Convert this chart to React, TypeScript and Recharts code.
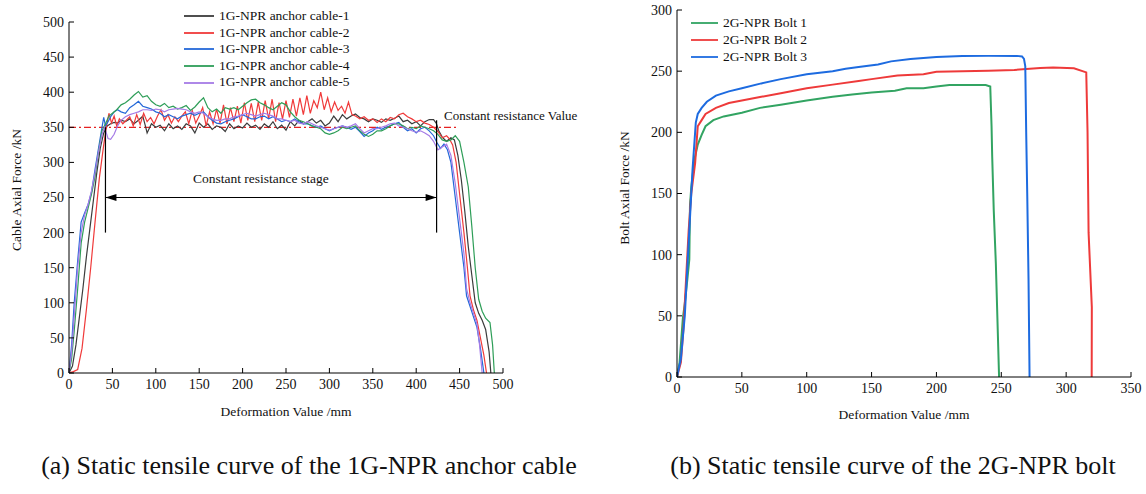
import React from 'react';
import { LineChart, Line, XAxis, YAxis, ReferenceLine, ReferenceDot } from 'recharts';

const serif = '"Liberation Serif", "Times New Roman", serif';

// ---------- (a) 1G-NPR anchor cable ----------
const cableXTicks = [0, 50, 100, 150, 200, 250, 300, 350, 400, 450, 500];
const cableYTicks = [0, 50, 100, 150, 200, 250, 300, 350, 400, 450, 500];
const cableNames = ['1G-NPR anchor cable-1', '1G-NPR anchor cable-2', '1G-NPR anchor cable-3', '1G-NPR anchor cable-4', '1G-NPR anchor cable-5'];
const cableColors = ['#3c3c3c', '#f03a3a', '#2468d8', '#2e9e58', '#a57be6'];
const constantValue = 350;
const stageStart = 42;
const stageEnd = 423.5;

const cable1 = [[0,0],[4,10],[8,40],[12,80],[16,120],[20,165],[24,205],[28,245],[32,285],[36,320],[40,342],[44,352],[48,355],[52,357],[56,356],[60,360],[65,358],[70,362],[75,355],[80,360],[85,366],[88,352],[90,342],[95,355],[100,350],[105,353],[110,345],[115,355],[120,348],[125,352],[130,347],[135,355],[140,352],[145,342],[150,356],[155,350],[160,355],[165,347],[170,352],[175,350],[180,344],[185,355],[190,348],[195,352],[200,349],[205,356],[210,350],[215,353],[220,347],[225,355],[230,350],[235,358],[240,348],[245,353],[250,346],[255,358],[260,352],[265,360],[270,355],[275,358],[280,362],[285,356],[290,360],[295,352],[300,356],[305,366],[310,358],[315,368],[320,362],[325,366],[330,369],[335,364],[340,362],[345,358],[350,362],[355,360],[360,357],[365,362],[370,360],[375,363],[380,366],[385,358],[390,360],[395,355],[400,358],[405,352],[410,358],[415,361],[420,361],[423,356],[426,345],[430,336],[435,330],[440,335],[444,332],[448,310],[452,275],[456,230],[460,180],[464,140],[468,100],[472,85],[476,75],[480,62],[484,30],[486,0]];
const cable2 = [[0,0],[5,2],[10,5],[15,35],[20,90],[25,150],[30,215],[35,278],[40,325],[43,350],[46,370],[49,356],[52,366],[55,352],[58,362],[62,355],[66,360],[70,365],[74,352],[78,368],[82,354],[86,370],[90,358],[94,364],[98,355],[102,366],[106,375],[110,360],[114,368],[118,356],[122,365],[126,358],[130,366],[134,372],[138,355],[142,374],[146,356],[150,366],[154,378],[158,352],[162,372],[166,355],[170,376],[174,356],[178,382],[182,355],[186,378],[190,358],[194,380],[198,356],[202,385],[206,360],[210,384],[214,358],[218,386],[222,360],[226,388],[230,362],[234,390],[238,358],[242,385],[246,362],[250,388],[254,364],[258,390],[262,366],[266,392],[270,368],[274,395],[278,370],[282,388],[286,378],[290,400],[294,375],[298,392],[302,372],[306,386],[310,374],[314,380],[318,370],[322,386],[326,368],[330,366],[335,362],[340,365],[345,360],[350,362],[355,357],[360,362],[365,358],[370,364],[375,362],[380,368],[385,370],[390,365],[395,362],[400,358],[405,360],[410,356],[415,354],[420,350],[425,344],[430,335],[435,338],[438,334],[442,325],[446,300],[450,255],[455,200],[459,150],[462,110],[466,90],[470,75],[474,50],[478,25],[481,0]];
const cable3 = [[0,0],[3,40],[6,100],[10,160],[14,215],[18,228],[22,240],[26,258],[30,290],[34,320],[38,350],[40,364],[42,352],[45,358],[48,365],[52,372],[56,375],[60,372],[65,370],[70,378],[75,382],[80,387],[85,380],[90,378],[95,376],[100,372],[105,370],[110,365],[115,368],[120,365],[125,362],[130,366],[135,368],[140,370],[145,367],[150,370],[155,372],[160,365],[165,360],[170,356],[175,355],[180,358],[185,360],[190,362],[195,365],[200,368],[205,365],[210,362],[215,362],[220,365],[225,366],[230,362],[235,365],[240,362],[245,358],[250,360],[255,358],[260,362],[265,358],[270,355],[275,355],[280,352],[285,350],[290,352],[295,348],[300,345],[305,348],[310,350],[315,352],[320,350],[325,347],[330,350],[335,344],[340,337],[345,342],[350,345],[355,350],[360,347],[365,350],[370,352],[375,355],[380,357],[385,350],[390,345],[395,348],[400,342],[405,348],[410,350],[415,345],[420,338],[424,328],[428,320],[432,326],[436,318],[440,300],[445,250],[450,200],[455,150],[458,110],[462,95],[466,80],[470,65],[474,35],[478,0]];
const cable4 = [[0,0],[3,20],[6,60],[10,120],[14,185],[18,215],[22,235],[26,255],[30,280],[34,315],[38,345],[42,355],[46,366],[50,370],[55,375],[60,382],[65,385],[70,390],[75,396],[80,401],[85,393],[90,395],[95,387],[100,382],[105,380],[110,384],[115,378],[120,380],[125,376],[130,378],[135,381],[140,374],[145,379],[150,386],[155,392],[160,378],[165,372],[170,376],[175,370],[180,378],[185,376],[190,378],[195,375],[200,380],[205,385],[210,389],[215,390],[220,385],[225,382],[230,378],[235,375],[240,380],[245,385],[250,382],[255,372],[260,365],[265,360],[270,358],[275,355],[280,352],[285,350],[290,348],[295,342],[300,340],[305,342],[310,345],[315,350],[320,348],[325,350],[330,352],[335,345],[340,340],[345,337],[350,340],[355,345],[360,345],[365,348],[370,352],[375,355],[380,355],[385,352],[390,348],[395,350],[400,348],[405,352],[410,350],[415,348],[420,345],[425,340],[430,332],[435,330],[440,332],[445,338],[450,330],[455,300],[460,265],[464,210],[468,150],[472,105],[476,88],[480,78],[485,72],[488,40],[490,0]];
const cable5 = [[0,0],[3,30],[6,80],[10,150],[14,200],[18,225],[22,240],[26,260],[30,285],[34,315],[38,340],[41,350],[43,342],[45,334],[48,333],[52,340],[56,352],[60,360],[65,365],[70,368],[75,370],[80,372],[85,375],[90,375],[95,374],[100,376],[105,375],[110,372],[115,375],[120,376],[125,377],[130,376],[135,375],[140,372],[145,370],[150,372],[155,370],[160,365],[165,362],[170,360],[175,360],[180,362],[185,362],[190,365],[195,366],[200,368],[205,370],[210,368],[215,366],[220,368],[225,370],[230,368],[235,366],[240,362],[245,362],[250,360],[255,358],[260,360],[265,356],[270,355],[275,358],[280,355],[285,352],[290,350],[295,348],[300,346],[305,348],[310,350],[315,352],[320,350],[325,352],[330,355],[335,348],[340,342],[345,345],[350,348],[355,348],[360,350],[365,352],[370,355],[375,356],[380,352],[385,350],[390,348],[395,345],[400,343],[405,345],[410,342],[415,338],[420,330],[425,318],[430,322],[435,326],[440,310],[445,270],[450,220],[455,170],[458,120],[462,100],[466,85],[470,70],[473,40],[476,0]];

// ---------- (b) 2G-NPR bolt ----------
const boltXTicks = [0, 50, 100, 150, 200, 250, 300, 350];
const boltYTicks = [0, 50, 100, 150, 200, 250, 300];
const boltNames = ['2G-NPR Bolt 1', '2G-NPR Bolt 2', '2G-NPR Bolt 3'];
const boltColors = ['#32a462', '#ee3a3a', '#1d6be0'];

const bolt1 = [[0,0],[2,12],[4.5,48],[6,60],[8,80],[9.5,96],[10,140],[11,155],[13.5,178],[16,190],[19,198],[22,205],[28,210],[36,213],[50,216],[64,220],[80,222.5],[100,226],[120,229],[135,231],[150,232.5],[168,234],[177,236],[190,236],[200,237.5],[210,238.7],[238,238.7],[241.5,237.5],[242.5,205],[243,180],[244.2,136],[245.8,93],[248.3,0]];
const bolt2 = [[0,0],[3,12],[5,40],[7,80],[9,120],[11,150],[14,175],[16,205],[19,210],[22,215],[30,220],[40,224],[50,226],[65,229],[80,232],[100,236],[120,239],[140,242],[150,243.5],[170,246.5],[190,247.5],[200,249.5],[220,250],[240,250.3],[260,251],[280,252.5],[290,253],[306,252.3],[315.5,249],[316.5,200],[317.3,118],[319.8,57],[319.7,0]];
const bolt3 = [[0,0],[3,15],[6,50],[8,90],[10,130],[12,170],[14.5,208],[16,215],[19,220],[23,225],[30,230],[40,233.5],[50,236],[65,240],[80,243.5],[100,247.5],[120,250],[130,252],[140,253.5],[155,255.5],[165,258],[180,260],[200,261.5],[220,262.3],[240,262.5],[262,262.5],[266,262],[267.5,260],[268.5,254],[269.2,200],[270,150],[271,80],[271.8,0]];

const toPts = (arr: number[][]) => arr.map(([x, y]) => ({ x, y }));
const cableSeries = [cable1, cable2, cable3, cable4, cable5].map(toPts);
const boltSeries = [bolt1, bolt2, bolt3].map(toPts);

const TICK_MARGIN = 5;
const TICK_LEN = 5;
const tickFont = { fontFamily: serif, fontSize: 14, fill: '#111' };

const LeftTick = (props: any) => {
  const { x, y, payload } = props;
  return (
    <g>
      <line x1={x + TICK_MARGIN} x2={x + TICK_MARGIN + TICK_LEN} y1={y} y2={y} stroke="#000" strokeWidth={1} />
      <text x={x} y={y} dy="0.35em" textAnchor="end" {...tickFont}>{payload.value}</text>
    </g>
  );
};
const BottomTick = (props: any) => {
  const { x, y, payload } = props;
  return (
    <g>
      <line x1={x} x2={x} y1={y - TICK_MARGIN} y2={y - TICK_MARGIN - TICK_LEN} stroke="#000" strokeWidth={1} />
      <text x={x} y={y} dy="0.8em" textAnchor="middle" {...tickFont}>{payload.value}</text>
    </g>
  );
};

const ArrowLine = (props: any) => {
  const { x1, y1, x2, y2 } = props;
  const L = 11, W = 3.5;
  return (
    <g>
      <line x1={x1} y1={y1} x2={x2} y2={y2} stroke="#000" strokeWidth={1.2} />
      <polygon points={`${x1},${y1} ${x1 + L},${y1 - W} ${x1 + L},${y1 + W}`} fill="#000" />
      <polygon points={`${x2},${y2} ${x2 - L},${y2 - W} ${x2 - L},${y2 + W}`} fill="#000" />
    </g>
  );
};

const LegendBox = ({ names, colors, rowH, lineW, fontSize, left, top }: any) => (
  <div style={{ position: 'absolute', left, top, fontFamily: serif, fontSize, color: '#111', lineHeight: `${rowH}px` }}>
    {names.map((n: string, i: number) => (
      <div key={n} style={{ display: 'flex', alignItems: 'center', height: rowH, whiteSpace: 'nowrap' }}>
        <svg width={lineW} height={4} style={{ marginRight: 5 }}>
          <line x1={0} x2={lineW} y1={2} y2={2} stroke={colors[i]} strokeWidth={1.8} />
        </svg>
        <span>{n}</span>
      </div>
    ))}
  </div>
);

const titleStyle: React.CSSProperties = { position: 'absolute', fontFamily: serif, fontSize: 13.5, color: '#111', whiteSpace: 'nowrap' };
const captionStyle: React.CSSProperties = { position: 'absolute', top: 466, transform: 'translate(-50%, -50%)', fontFamily: serif, fontSize: 26, color: '#111', whiteSpace: 'nowrap' };

export default function App() {
  return (
    <div style={{ position: 'absolute', left: 0, top: 0, width: 1146, height: 494, background: '#fff', overflow: 'hidden' }}>
      {/* Chart (a) */}
      <div style={{ position: 'absolute', left: 0, top: 0 }}>
        <LineChart width={600} height={420} margin={{ top: 22, right: 97, bottom: 0, left: 20 }}>
          <XAxis type="number" dataKey="x" domain={[0, 500]} ticks={cableXTicks} interval={0} allowDataOverflow
            height={47} tickSize={0} tickMargin={TICK_MARGIN} tick={BottomTick} axisLine={{ stroke: '#000' }} tickLine={false} />
          <YAxis type="number" dataKey="y" domain={[0, 500]} ticks={cableYTicks} interval={0} allowDataOverflow
            width={49} tickSize={0} tickMargin={TICK_MARGIN} tick={LeftTick} axisLine={{ stroke: '#000' }} tickLine={false} />
          <ReferenceLine segment={[{ x: 0, y: constantValue }, { x: 448, y: constantValue }]} stroke="#e52222" strokeWidth={1.3} strokeDasharray="7 3 2 3" />
          {cableSeries.map((d, i) => (
            <Line key={cableNames[i]} data={d} dataKey="y" name={cableNames[i]} type="linear" stroke={cableColors[i]} strokeWidth={1.2} dot={false} isAnimationActive={false} />
          ))}
          <ReferenceLine segment={[{ x: stageStart, y: constantValue }, { x: stageStart, y: 200 }]} stroke="#000" strokeWidth={1.2} />
          <ReferenceLine segment={[{ x: stageEnd, y: 360 }, { x: stageEnd, y: 200 }]} stroke="#000" strokeWidth={1.2} />
          <ReferenceLine segment={[{ x: stageStart, y: 250 }, { x: stageEnd, y: 250 }]} shape={ArrowLine} />
          <ReferenceDot x={221} y={278} r={0} stroke="none" fill="none"
            label={{ value: 'Constant resistance stage', position: 'center', style: { fontFamily: serif, fontSize: 13.5, fill: '#111' } }} />
          <ReferenceDot x={432} y={367} r={0} stroke="none" fill="none" ifOverflow="visible"
            label={{ value: 'Constant resistance Value', position: 'right', offset: 0, style: { fontFamily: serif, fontSize: 13, fill: '#111' } }} />
        </LineChart>
        <LegendBox names={cableNames} colors={cableColors} rowH={16.6} lineW={30} fontSize={13.5} left={184} top={8} />
        <div style={{ ...titleStyle, left: 286, top: 412, transform: 'translate(-50%, -50%)' }}>Deformation Value /mm</div>
        <div style={{ ...titleStyle, left: 17, top: 190, transform: 'translate(-50%, -50%) rotate(-90deg)' }}>Cable Axial Force /kN</div>
      </div>

      {/* Chart (b) */}
      <div style={{ position: 'absolute', left: 580, top: 0 }}>
        <LineChart width={566} height={420} margin={{ top: 10, right: 15, bottom: 0, left: 47 }}>
          <XAxis type="number" dataKey="x" domain={[0, 350]} ticks={boltXTicks} interval={0} allowDataOverflow
            height={43} tickSize={0} tickMargin={TICK_MARGIN} tick={BottomTick} axisLine={{ stroke: '#000' }} tickLine={false} />
          <YAxis type="number" dataKey="y" domain={[0, 300]} ticks={boltYTicks} interval={0} allowDataOverflow
            width={50} tickSize={0} tickMargin={TICK_MARGIN} tick={LeftTick} axisLine={{ stroke: '#000' }} tickLine={false} />
          {boltSeries.map((d, i) => (
            <Line key={boltNames[i]} data={d} dataKey="y" name={boltNames[i]} type="linear" stroke={boltColors[i]} strokeWidth={2} dot={false} isAnimationActive={false} />
          ))}
        </LineChart>
        <LegendBox names={boltNames} colors={boltColors} rowH={17} lineW={27} fontSize={13.5} left={111} top={14} />
        <div style={{ ...titleStyle, left: 324, top: 415, transform: 'translate(-50%, -50%)' }}>Deformation Value /mm</div>
        <div style={{ ...titleStyle, left: 45, top: 188, transform: 'translate(-50%, -50%) rotate(-90deg)' }}>Bolt Axial Force /kN</div>
      </div>

      {/* Captions */}
      <div style={{ ...captionStyle, left: 309 }}>(a) Static tensile curve of the 1G-NPR anchor cable</div>
      <div style={{ ...captionStyle, left: 893 }}>(b) Static tensile curve of the 2G-NPR bolt</div>
    </div>
  );
}
